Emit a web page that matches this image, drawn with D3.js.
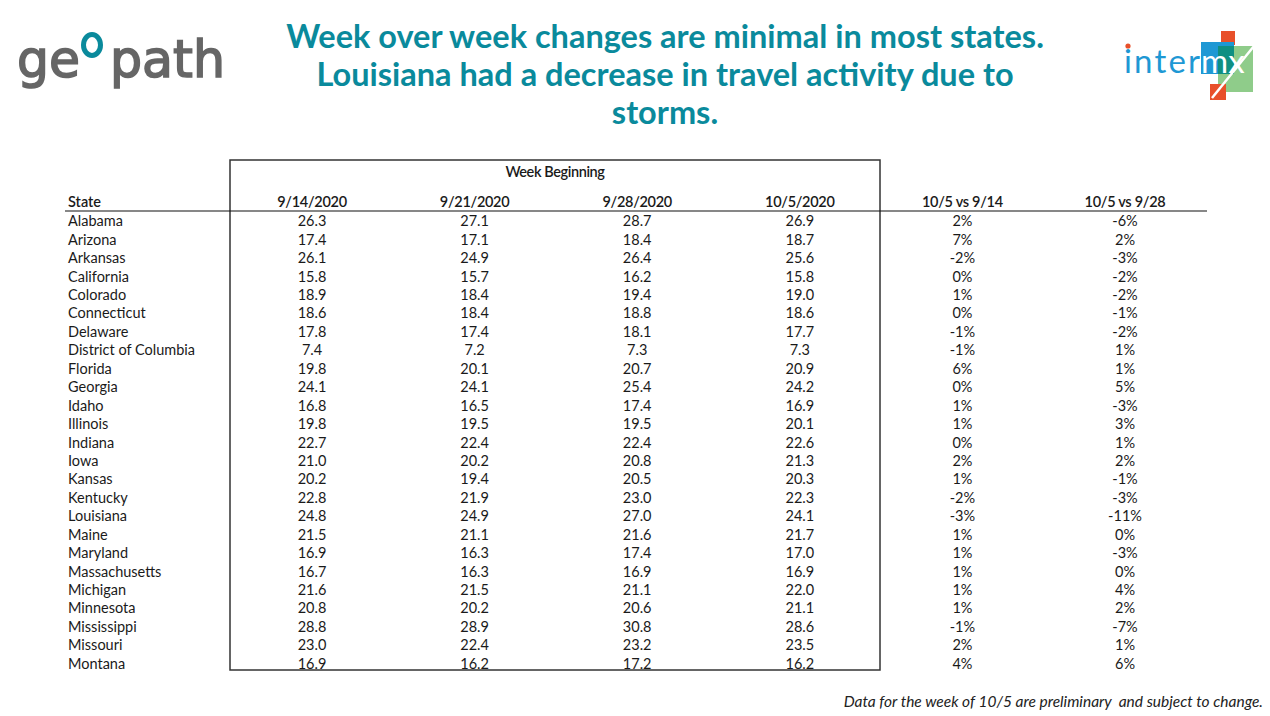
<!DOCTYPE html>
<html>
<head>
<meta charset="utf-8">
<script src="https://cdn.jsdelivr.net/npm/d3@7"></script>
<style>
  html, body { margin: 0; padding: 0; background: #fff; }
  svg { display: block; }
</style>
</head>
<body>
<svg id="chart" width="1270" height="716"></svg>
<script>
// table data
const states = ['Alabama', 'Arizona', 'Arkansas', 'California', 'Colorado', 'Connecticut', 'Delaware',
  'District of Columbia', 'Florida', 'Georgia', 'Idaho', 'Illinois', 'Indiana', 'Iowa', 'Kansas',
  'Kentucky', 'Louisiana', 'Maine', 'Maryland', 'Massachusetts', 'Michigan', 'Minnesota',
  'Mississippi', 'Missouri', 'Montana'];

const weeks = ['9/14/2020', '9/21/2020', '9/28/2020', '10/5/2020'];
const changeLabels = ['10/5 vs 9/14', '10/5 vs 9/28'];

const week0914 = [26.3, 17.4, 26.1, 15.8, 18.9, 18.6, 17.8, 7.4, 19.8, 24.1, 16.8, 19.8, 22.7, 21.0, 20.2, 22.8, 24.8, 21.5, 16.9, 16.7, 21.6, 20.8, 28.8, 23.0, 16.9];
const week0921 = [27.1, 17.1, 24.9, 15.7, 18.4, 18.4, 17.4, 7.2, 20.1, 24.1, 16.5, 19.5, 22.4, 20.2, 19.4, 21.9, 24.9, 21.1, 16.3, 16.3, 21.5, 20.2, 28.9, 22.4, 16.2];
const week0928 = [28.7, 18.4, 26.4, 16.2, 19.4, 18.8, 18.1, 7.3, 20.7, 25.4, 17.4, 19.5, 22.4, 20.8, 20.5, 23.0, 27.0, 21.6, 17.4, 16.9, 21.1, 20.6, 30.8, 23.2, 17.2];
const week1005 = [26.9, 18.7, 25.6, 15.8, 19.0, 18.6, 17.7, 7.3, 20.9, 24.2, 16.9, 20.1, 22.6, 21.3, 20.3, 22.3, 24.1, 21.7, 17.0, 16.9, 22.0, 21.1, 28.6, 23.5, 16.2];
const chgVs0914 = [2, 7, -2, 0, 1, 0, -1, -1, 6, 0, 1, 1, 0, 2, 1, -2, -3, 1, 1, 1, 1, 1, -1, 2, 4];
const chgVs0928 = [-6, 2, -3, -2, -2, -1, -2, 1, 1, 5, -3, 3, 1, 2, -1, -3, -11, 0, -3, 0, 4, 2, -7, 1, 6];

const titleLines = ['Week over week changes are minimal in most states.',
  'Louisiana had a decrease in travel activity due to', 'storms.'];
const footnote = 'Data for the week of 10/5 are preliminary  and subject to change.';

const W = 1270, H = 716;
const teal = '#0a8a9c';
const font = 'Lato, "Open Sans", sans-serif';

const svg = d3.select('#chart');

// ---- title
svg.append('g')
  .selectAll('text')
  .data(titleLines)
  .join('text')
  .attr('x', 665)
  .attr('y', (d, i) => 48 + i * 38)
  .attr('text-anchor', 'middle')
  .attr('font-family', font)
  .attr('font-weight', 700)
  .attr('font-size', 32.5)
  .attr('fill', teal)
  .text(d => d);

// ---- geopath logo
const geo = svg.append('g').attr('font-family', '"DejaVu Sans", sans-serif')
  .attr('fill', '#666').attr('stroke', '#666').attr('stroke-width', 1.6);
geo.append('text').attr('x', 17).attr('y', 77).attr('font-size', 51)
  .attr('textLength', 63).attr('lengthAdjust', 'spacingAndGlyphs').text('ge');
geo.append('text').attr('x', 110).attr('y', 77).attr('font-size', 51)
  .attr('textLength', 115).attr('lengthAdjust', 'spacingAndGlyphs').text('path');
geo.append('ellipse').attr('cx', 92).attr('cy', 45).attr('rx', 8.5).attr('ry', 10.5)
  .attr('fill', 'none').attr('stroke', teal).attr('stroke-width', 5);

// ---- intermx logo
const mx = svg.append('g');
mx.append('rect').attr('x', 1221).attr('y', 31).attr('width', 14).attr('height', 14).attr('fill', '#e8502a');
mx.append('rect').attr('x', 1218).attr('y', 46).attr('width', 35).attr('height', 46).attr('fill', '#8fcc8a');
mx.append('rect').attr('x', 1201).attr('y', 42).attr('width', 33).attr('height', 32).attr('fill', '#1e98d4');
mx.append('rect').attr('x', 1218).attr('y', 46).attr('width', 16).attr('height', 28).attr('fill', '#0f8f82');
mx.append('rect').attr('x', 1210).attr('y', 84).attr('width', 16).attr('height', 16).attr('fill', '#e8502a');
mx.append('text').attr('x', 1124).attr('y', 73).attr('font-family', font).attr('font-size', 33)
  .attr('textLength', 76).attr('fill', '#1e98d4').text('inter');
mx.append('text').attr('x', 1201).attr('y', 73).attr('font-family', font).attr('font-size', 33)
  .attr('fill', '#fff').text('mx');
mx.append('line').attr('x1', 1212).attr('y1', 98).attr('x2', 1254).attr('y2', 46)
  .attr('stroke', '#fff').attr('stroke-width', 2.5);
mx.append('circle').attr('cx', 1128).attr('cy', 46).attr('r', 2.6).attr('fill', '#e8502a');

// ---- table
const colKeys = [...weeks, ...changeLabels];
const colValues = [week0914, week0921, week0928, week1005, chgVs0914, chgVs0928];

const x = d3.scalePoint().domain(colKeys).range([312, 1125]);
const y = d3.scaleBand().domain(states).range([212, 673]).paddingInner(0);

const numFmt = d3.format('.1f');
const pctFmt = v => `${v}%`;

const table = svg.append('g').attr('font-family', font).attr('font-size', 14.5).attr('fill', '#1a1a1a');

// box round the weekly columns
const boxLeft = 230, boxRight = 880;
table.append('rect')
  .attr('x', boxLeft).attr('y', 160)
  .attr('width', boxRight - boxLeft).attr('height', y.range()[1] - 3 - 160)
  .attr('fill', 'none').attr('stroke', '#333').attr('stroke-width', 1.5);

table.append('text')
  .attr('x', (boxLeft + boxRight) / 2).attr('y', 177)
  .attr('text-anchor', 'middle').attr('font-weight', 600).attr('font-size', 14.5)
  .attr('letter-spacing', -0.4)
  .text('Week Beginning');

// header row
table.append('text').attr('x', 68).attr('y', 207).attr('font-weight', 600).text('State');
table.append('g')
  .selectAll('text')
  .data(colKeys)
  .join('text')
  .attr('x', d => x(d))
  .attr('y', 207)
  .attr('text-anchor', 'middle')
  .attr('font-weight', 600)
  .attr('letter-spacing', -0.3)
  .text(d => d);

table.append('line')
  .attr('x1', 65).attr('x2', 1207)
  .attr('y1', 211).attr('y2', 211)
  .attr('stroke', '#111').attr('stroke-width', 1.2);

// body rows
const rows = table.append('g')
  .selectAll('g')
  .data(states)
  .join('g')
  .attr('transform', d => `translate(0,${y(d) + y.bandwidth() / 2 + 5})`);

rows.append('text').attr('x', 68).text(d => d);

colKeys.forEach((key, ci) => {
  rows.append('text')
    .attr('x', x(key))
    .attr('text-anchor', 'middle')
    .text((d, ri) => ci < 4 ? numFmt(colValues[ci][ri]) : pctFmt(colValues[ci][ri]));
});

// footnote
svg.append('text')
  .attr('x', 1263).attr('y', 707)
  .attr('text-anchor', 'end')
  .attr('font-family', font).attr('font-style', 'italic').attr('font-size', 15.5)
  .attr('fill', '#222')
  .style('white-space', 'pre')
  .text(footnote);
</script>
</body>
</html>
